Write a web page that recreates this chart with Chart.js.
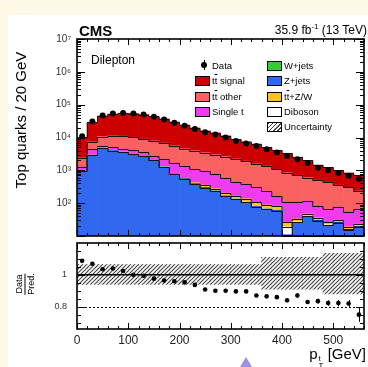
<!DOCTYPE html>
<html>
<head>
<meta charset="utf-8">
<script src="https://cdn.jsdelivr.net/npm/chart.js@4.4.0/dist/chart.umd.min.js"></script>
<style>
  html, body { margin: 0; padding: 0; }
  body { width: 368px; height: 367px; background: #fdf9e6; position: relative; overflow: hidden;
         font-family: "Liberation Sans", Arial, sans-serif; color: #000; }
  #sheet { position: absolute; left: 8px; top: 15px; right: 0; bottom: 0; background: #fff; }
  canvas { position: absolute; left: 0; }
  #upper { top: 0; }
  #lower { top: 239px; }
  .txt { position: absolute; white-space: nowrap; line-height: 1; }
  #cms { left: 79px; top: 23px; font-weight: bold; font-size: 15px; }
  #lumi { right: 1px; top: 24px; font-size: 12px; }
  #lumi sup { font-size: 8px; vertical-align: 5px; line-height: 0; }
  #channel { left: 91px; top: 54px; font-size: 12px; }
  #yTitle { left: 20px; top: 120px; font-size: 15px; transform: translate(-50%, -50%) rotate(-90deg); }
  #ratioTitle { left: 25px; top: 284px; font-size: 9px; transform: translate(-50%, -50%) rotate(-90deg);
                display: inline-flex; flex-direction: column; align-items: center; }
  #ratioTitle .num { border-bottom: 1px solid #000; padding: 0 1px 1px; }
  #ratioTitle .den { padding-top: 1px; }
  #xTitle { right: 2px; top: 346px; font-size: 15px; }
  #xTitle .ss { display: inline-flex; flex-direction: column; font-size: 8px; line-height: 7px;
                vertical-align: -2px; margin-left: 1px; }
  .ov { text-decoration: overline; }
  .leg { position: absolute; font-size: 9.5px; white-space: nowrap; line-height: 1; }
  .box { position: absolute; width: 13px; height: 8px; border: 1px solid #000; }
  #marker { position: absolute; left: 201px; top: 62px; width: 6px; height: 6px; border-radius: 50%; background: #000; }
  #markerBar { position: absolute; left: 203.5px; top: 60px; width: 1px; height: 10px; background: #000; }
  #tri { position: absolute; left: 240px; top: 357px; width: 0; height: 0;
         border-left: 6px solid transparent; border-right: 6px solid transparent; border-bottom: 10px solid #9d8ee6; }
</style>
</head>
<body>
<div id="sheet"></div>
<canvas id="upper" width="368" height="240"></canvas>
<canvas id="lower" width="368" height="128"></canvas>

<div id="cms" class="txt">CMS</div>
<div id="lumi" class="txt">35.9 fb<sup>-1</sup> (13 TeV)</div>
<div id="channel" class="txt">Dilepton</div>
<div id="yTitle" class="txt">Top quarks / 20 GeV</div>
<div id="ratioTitle" class="txt"><span class="num">Data</span><span class="den">Pred.</span></div>
<div id="xTitle" class="txt">p<span class="ss"><span>t</span><span>T</span></span> [GeV]</div>
<div id="legend"></div>
<div id="tri"></div>

<script>
// 20 GeV bins from 0 to 560 GeV
const binCenters = [10, 30, 50, 70, 90, 110, 130, 150, 170, 190, 210, 230, 250, 270,
                    290, 310, 330, 350, 370, 390, 410, 430, 450, 470, 490, 510, 530, 550];

// stacked predictions, bottom to top
const zJets     = [930, 2880, 4790, 3980, 3550, 3160, 2750, 2000, 1260, 790, 540, 380, 300, 234,
                   166, 132, 105, 79, 66, 59, 11, 26, 40, 29, 21, 25, 15, 19];
const wJets     = [4, 8, 10, 9, 8, 7, 6, 5, 4, 3, 3, 2, 2, 2, 1, 1, 1, 1, 1, 1, 0, 0, 0, 0, 0, 0, 0, 0];
const diboson   = [2, 4, 5, 5, 4, 4, 3, 3, 2, 2, 2, 2, 2, 1, 1, 1, 1, 1, 1, 1, 8, 1, 1, 1, 1, 1, 1, 1];
const ttV       = [8, 20, 30, 30, 30, 28, 26, 24, 22, 20, 30, 40, 50, 40, 35, 30, 30, 25, 20, 20,
                   7, 6, 6, 6, 4, 4, 3, 3];
const singleTop = [315, 1450, 790, 990, 875, 875, 763, 722, 850, 845, 774, 648, 601, 482,
                   400, 263, 243, 196, 146, 85, 79, 77, 70, 47, 40, 46, 35, 43];
const ttOther   = [1140, 3050, 5090, 6210, 6500, 5930, 5370, 5190, 4620, 3960, 3220, 2910, 2510, 2260,
                   2030, 1810, 1525, 1283, 1115, 906, 746, 598, 486, 418, 361, 279, 248, 170];
const ttSignal  = [7670, 21430, 34480, 40070, 43990, 43700, 41210, 35710, 29970, 23890, 19420, 15520,
                   12380, 10780, 8590, 6470, 5510, 4725, 3663, 3002, 2460, 1804, 1392, 944, 803, 645, 530, 473];
const dataCounts = [11000, 30900, 46800, 53700, 56200, 53700, 50100, 42700, 35500, 28200, 22900, 18200,
                    14500, 12300, 10000, 7760, 6610, 5500, 4370, 3470, 2750, 2190, 1660, 1200, 1000, 830, 680, 540];

// data / prediction
const ratio    = [1.088, 1.07, 1.035, 1.04, 1.024, 1.0, 0.994, 0.976, 0.965, 0.96, 0.953, 0.937, 0.908, 0.90,
                  0.90, 0.896, 0.896, 0.87, 0.865, 0.86, 0.84, 0.87, 0.83, 0.835, 0.823, 0.823, 0.82, 0.75];
const ratioErr = [0.003, 0.002, 0.002, 0.002, 0.002, 0.002, 0.002, 0.002, 0.003, 0.003, 0.003, 0.004, 0.004, 0.005,
                  0.005, 0.006, 0.006, 0.007, 0.008, 0.009, 0.01, 0.015, 0.012, 0.015, 0.018, 0.02, 0.022, 0.045];
const bandUp   = [0.065, 0.065, 0.065, 0.065, 0.065, 0.065, 0.065, 0.065, 0.065, 0.065, 0.065, 0.065, 0.065, 0.065,
                  0.065, 0.065, 0.065, 0.065, 0.11, 0.11, 0.11, 0.11, 0.11, 0.11, 0.135, 0.135, 0.135, 0.135];
const bandDown = [0.06, 0.06, 0.06, 0.06, 0.06, 0.06, 0.06, 0.06, 0.06, 0.06, 0.06, 0.06, 0.06, 0.06,
                  0.06, 0.06, 0.06, 0.06, 0.09, 0.09, 0.09, 0.09, 0.09, 0.09, 0.12, 0.12, 0.12, 0.12];

const countExponents = [2, 3, 4, 5, 6, 7];
const xTickValues = [0, 100, 200, 300, 400, 500];
const ratioTickValues = [0.8, 1];

const COLORS = {
    zJets: '#3068f0', wJets: '#33cc33', diboson: '#ffffff', ttV: '#f7c22a',
    singleTop: '#f03cf0', ttOther: '#fa6262', ttSignal: '#cc0000'
};

const FONT = '"Liberation Sans", Arial, sans-serif';
const SUP = { 2: '\u00b2', 3: '\u00b3', 4: '\u2074', 5: '\u2075', 6: '\u2076', 7: '\u2077' };

function points(values) {
    return binCenters.map((x, i) => ({ x: x, y: values[i] }));
}

function hatchPattern(ctx) {
    const s = 4;
    const c = document.createElement('canvas');
    c.width = c.height = s;
    const g = c.getContext('2d');
    g.strokeStyle = '#444';
    g.lineWidth = 1.1;
    g.beginPath();
    g.moveTo(0, s); g.lineTo(s, 0);
    g.moveTo(-1, 1); g.lineTo(1, -1);
    g.moveTo(s - 1, s + 1); g.lineTo(s + 1, s - 1);
    g.stroke();
    return ctx.createPattern(c, 'repeat');
}

// ROOT-style frame: inward ticks on all four sides, y labels left of the frame
const rootFrame = {
    id: 'rootFrame',
    afterDatasetsDraw(chart, args, opts) {
        const { ctx, chartArea: a, scales: { x, y } } = chart;
        ctx.save();
        ctx.strokeStyle = '#000';
        ctx.lineWidth = 1;
        ctx.beginPath();
        for (let v = 0; v <= x.max; v += 20) {
            const px = Math.round(x.getPixelForValue(v)) + 0.5;
            const len = v % 100 === 0 ? 6 : 3;
            ctx.moveTo(px, a.bottom); ctx.lineTo(px, a.bottom - len);
            ctx.moveTo(px, a.top); ctx.lineTo(px, a.top + len);
        }
        opts.yTicks.forEach(([v, major]) => {
            const py = Math.round(y.getPixelForValue(v)) + 0.5;
            const len = major ? 8 : 4;
            ctx.moveTo(a.left, py); ctx.lineTo(a.left + len, py);
            ctx.moveTo(a.right, py); ctx.lineTo(a.right - len, py);
        });
        ctx.stroke();
        ctx.lineWidth = 1.6;
        ctx.strokeRect(a.left, a.top, a.right - a.left, a.bottom - a.top);

        ctx.fillStyle = '#333';
        ctx.font = opts.labelFont;
        ctx.textAlign = 'right';
        ctx.textBaseline = 'middle';
        opts.yLabels.forEach(([v, text]) => {
            ctx.fillText(text, a.left - opts.labelGap, y.getPixelForValue(v));
        });
        ctx.restore();
    }
};

// histogram step line along the top of each stacked component
const stepOutline = {
    id: 'stepOutline',
    afterDatasetDraw(chart, args) {
        const meta = args.meta;
        if (meta.type !== 'bar') return;
        const ctx = chart.ctx;
        ctx.save();
        ctx.strokeStyle = '#111';
        ctx.lineWidth = 1;
        ctx.beginPath();
        meta.data.forEach((bar, i) => {
            const { x, y, width } = bar.getProps(['x', 'y', 'width'], true);
            const top = Math.round(y) + 0.5;
            const l = x - width / 2;
            if (i === 0) ctx.moveTo(l, top); else ctx.lineTo(l, top);
            ctx.lineTo(x + width / 2, top);
        });
        ctx.stroke();
        ctx.restore();
    }
};

// ---- upper panel: stacked predictions and data ----
const logTicks = [];
for (let e = 1; e <= 6; e++) {
    for (let k = 1; k <= 9; k++) logTicks.push([k * Math.pow(10, e), k === 1]);
}
logTicks.push([1e7, true]);

const stackDefs = [
    ['Z+jets', zJets, COLORS.zJets],
    ['W+jets', wJets, COLORS.wJets],
    ['Diboson', diboson, COLORS.diboson],
    ['ttbar+Z/W', ttV, COLORS.ttV],
    ['Single t', singleTop, COLORS.singleTop],
    ['ttbar other', ttOther, COLORS.ttOther],
    ['ttbar signal', ttSignal, COLORS.ttSignal]
];

const upperDatasets = stackDefs.map(([label, values, color]) => ({
    type: 'bar',
    label: label,
    data: points(values),
    backgroundColor: color,
    borderWidth: 0,
    barPercentage: 1,
    categoryPercentage: 1
}));
upperDatasets.push({
    type: 'scatter',
    label: 'Data',
    data: points(dataCounts),
    order: -1,
    pointRadius: 3,
    pointBackgroundColor: '#000',
    pointBorderWidth: 0
});

new Chart(document.getElementById('upper'), {
    type: 'bar',
    data: { datasets: upperDatasets },
    options: {
        responsive: false,
        animation: false,
        layout: { padding: { top: 39, right: 1, bottom: 1, left: 77 } },
        plugins: {
            legend: { display: false },
            tooltip: { enabled: false },
            rootFrame: {
                yTicks: logTicks,
                yLabels: countExponents.map(e => [Math.pow(10, e), '10' + SUP[e]]),
                labelFont: '10px ' + FONT,
                labelGap: 6
            }
        },
        scales: {
            x: { type: 'linear', min: 0, max: 560, offset: false, stacked: true, display: false },
            y: { type: 'logarithmic', min: 10, max: 1e7, stacked: true, display: false }
        }
    },
    plugins: [stepOutline, rootFrame]
});

// ---- lower panel: data / prediction ----
const ratioTicks = [];
for (let v = 0.7; v < 1.19; v += 0.05) {
    const r = Math.round(v * 100) / 100;
    ratioTicks.push([r, r === 0.8 || r === 1]);
}

const ratioLines = {
    id: 'ratioLines',
    afterDatasetDraw(chart, args) {
        if (args.meta.type !== 'bar') return;
        const { ctx, chartArea: a, scales: { y } } = chart;
        ctx.save();
        ctx.strokeStyle = '#000';
        ctx.lineWidth = 1.5;
        ctx.beginPath();
        const y1 = y.getPixelForValue(1);
        ctx.moveTo(a.left, y1); ctx.lineTo(a.right, y1);
        ctx.stroke();
        ctx.lineWidth = 1;
        ctx.setLineDash([2, 2]);
        ctx.beginPath();
        const y8 = Math.round(y.getPixelForValue(0.8)) + 0.5;
        ctx.moveTo(a.left, y8); ctx.lineTo(a.right, y8);
        ctx.stroke();
        ctx.restore();
    },
    afterDatasetsDraw(chart) {
        const { ctx, scales: { x, y } } = chart;
        ctx.save();
        ctx.strokeStyle = '#000';
        ctx.lineWidth = 1;
        ctx.beginPath();
        binCenters.forEach((c, i) => {
            const px = Math.round(x.getPixelForValue(c)) + 0.5;
            ctx.moveTo(px, y.getPixelForValue(ratio[i] - ratioErr[i]));
            ctx.lineTo(px, y.getPixelForValue(ratio[i] + ratioErr[i]));
        });
        ctx.stroke();
        ctx.restore();
    }
};

const lowerCanvas = document.getElementById('lower');
new Chart(lowerCanvas, {
    type: 'bar',
    data: {
        datasets: [
            {
                type: 'bar',
                label: 'Uncertainty',
                data: binCenters.map((x, i) => ({ x: x, y: [1 - bandDown[i], 1 + bandUp[i]] })),
                backgroundColor: hatchPattern(lowerCanvas.getContext('2d')),
                borderWidth: 0,
                barPercentage: 1,
                categoryPercentage: 1
            },
            {
                type: 'scatter',
                label: 'Data',
                data: points(ratio),
                order: -1,
                pointRadius: 2.3,
                pointBackgroundColor: '#000',
                pointBorderWidth: 0
            }
        ]
    },
    options: {
        responsive: false,
        animation: false,
        layout: { padding: { top: 1, right: 1, bottom: 0, left: 77 } },
        plugins: {
            legend: { display: false },
            tooltip: { enabled: false },
            rootFrame: {
                yTicks: ratioTicks,
                yLabels: ratioTickValues.map(v => [v, String(v)]),
                labelFont: '9px ' + FONT,
                labelGap: 10
            }
        },
        scales: {
            x: {
                type: 'linear', min: 0, max: 560, offset: false,
                grid: { display: false, drawTicks: false },
                border: { display: false },
                afterBuildTicks: s => { s.ticks = xTickValues.map(v => ({ value: v })); },
                afterFit: s => { s.height = 38; },
                ticks: { padding: 4, color: '#222', maxRotation: 0, autoSkip: false, font: { family: FONT, size: 12 } }
            },
            y: { min: 0.66, max: 1.2, display: false }
        }
    },
    plugins: [rootFrame, ratioLines]
});

// ---- legend, two columns inside the upper frame ----
const legendRows = [66, 81, 97, 112, 127];
const legendItems = [
    { col: 0, row: 0, html: 'Data' },
    { col: 0, row: 1, html: 't<span class="ov">t</span> signal', color: COLORS.ttSignal },
    { col: 0, row: 2, html: 't<span class="ov">t</span> other', color: COLORS.ttOther },
    { col: 0, row: 3, html: 'Single t', color: COLORS.singleTop },
    { col: 1, row: 0, html: 'W+jets', color: COLORS.wJets },
    { col: 1, row: 1, html: 'Z+jets', color: COLORS.zJets },
    { col: 1, row: 2, html: 't<span class="ov">t</span>+Z/W', color: COLORS.ttV },
    { col: 1, row: 3, html: 'Diboson', color: COLORS.diboson },
    { col: 1, row: 4, html: 'Uncertainty', hatch: true }
];
const legendCols = [{ box: 195, text: 212 }, { box: 267, text: 284 }];
const legend = document.getElementById('legend');
legendItems.forEach(item => {
    const cy = legendRows[item.row];
    const col = legendCols[item.col];
    if (item.color || item.hatch) {
        const b = document.createElement('div');
        b.className = 'box';
        b.style.left = col.box + 'px';
        b.style.top = (cy - 5) + 'px';
        b.style.background = item.hatch
            ? 'repeating-linear-gradient(135deg, #444 0 1px, #fff 1px 3px)'
            : item.color;
        legend.appendChild(b);
    }
    const t = document.createElement('div');
    t.className = 'leg';
    t.style.left = col.text + 'px';
    t.style.top = (cy - 5) + 'px';
    t.innerHTML = item.html;
    legend.appendChild(t);
});
const mk = document.createElement('div'); mk.id = 'marker'; legend.appendChild(mk);
const mb = document.createElement('div'); mb.id = 'markerBar'; legend.appendChild(mb);
</script>
</body>
</html>
